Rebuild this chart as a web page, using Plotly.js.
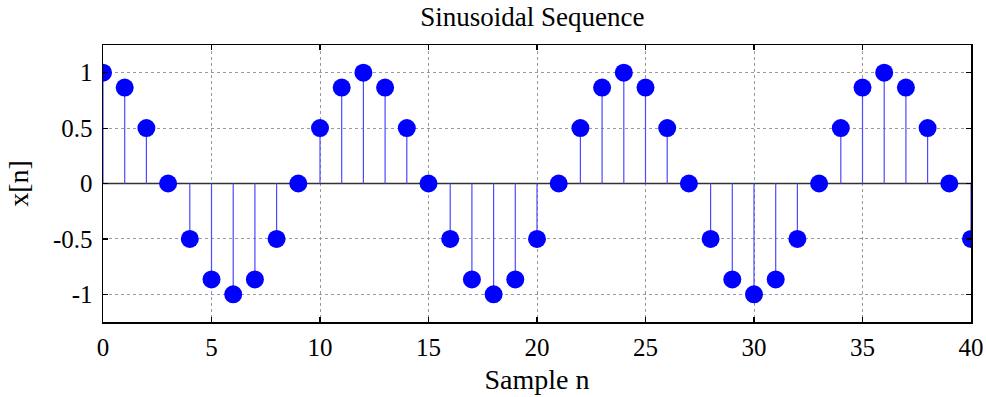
<!DOCTYPE html>
<html>
<head>
<meta charset="utf-8">
<script src="https://cdn.plot.ly/plotly-3.0.1.min.js"></script>
<style>
  html, body { margin: 0; padding: 0; background: #fff; }
  #chart { width: 986px; height: 397px; }
</style>
</head>
<body>
<div id="chart"></div>
<script>
// Sample indices and sequence values x[n]
const sampleN = [0,1,2,3,4,5,6,7,8,9,10,11,12,13,14,15,16,17,18,19,20,
                 21,22,23,24,25,26,27,28,29,30,31,32,33,34,35,36,37,38,39,40];
const seqValues = [1, 0.866, 0.5, 0, -0.5, -0.866, -1, -0.866, -0.5, 0,
                   0.5, 0.866, 1, 0.866, 0.5, 0, -0.5, -0.866, -1, -0.866,
                   -0.5, 0, 0.5, 0.866, 1, 0.866, 0.5, 0, -0.5, -0.866,
                   -1, -0.866, -0.5, 0, 0.5, 0.866, 1, 0.866, 0.5, 0, -0.5];
const xTicks = [0, 5, 10, 15, 20, 25, 30, 35, 40];
const yTicks = [-1, -0.5, 0, 0.5, 1];
const yTickText = ['-1', '-0.5', '0', '0.5', '1'];

// Build stem segments from baseline to each value
const stemX = [], stemY = [];
sampleN.forEach((n, i) => {
  stemX.push(n, n, null);
  stemY.push(0, seqValues[i], null);
});

const serif = 'Liberation Serif, Times New Roman, serif';

const traces = [
  {
    x: [sampleN[0], sampleN[sampleN.length - 1]], y: [0, 0],
    mode: 'lines', type: 'scatter', hoverinfo: 'skip',
    line: { color: '#333', width: 1.3 }
  },
  {
    x: stemX, y: stemY, mode: 'lines', type: 'scatter', hoverinfo: 'skip',
    line: { color: '#4a4aff', width: 1.2 }
  },
  {
    x: sampleN, y: seqValues, mode: 'markers', type: 'scatter',
    marker: { color: '#0000ff', size: 18, line: { width: 0 } }
  }
];

const axisCommon = {
  showline: true, mirror: 'ticks', linecolor: '#000', linewidth: 1.5,
  ticks: 'inside', ticklen: 5, tickwidth: 1.2, tickcolor: '#000',
  showgrid: true, gridcolor: '#9a9a9a', griddash: 'dot', gridwidth: 1,
  zeroline: false,
  tickfont: { family: serif, size: 25, color: '#000' }
};

const layout = {
  width: 986, height: 397,
  margin: { l: 103, r: 15, t: 45, b: 75 },
  paper_bgcolor: '#fff', plot_bgcolor: '#fff',
  showlegend: false,
  title: {
    text: 'Sinusoidal Sequence',
    font: { family: serif, size: 27, color: '#000' },
    x: 0.54, xanchor: 'center', y: 0.983, yanchor: 'top'
  },
  xaxis: Object.assign({}, axisCommon, {
    range: [0, 40], tickvals: xTicks, ticktext: xTicks.map(String),
    ticklabelstandoff: 2,
    title: { text: 'Sample n', font: { family: serif, size: 28, color: '#000' }, standoff: 10 }
  }),
  yaxis: Object.assign({}, axisCommon, {
    range: [-1.25, 1.25], tickvals: yTicks, ticktext: yTickText,
    ticklabelstandoff: 4,
    title: { text: 'x[n]', font: { family: serif, size: 28, color: '#000' }, standoff: 16 }
  })
};

Plotly.newPlot('chart', traces, layout, { displayModeBar: false, staticPlot: true });
</script>
</body>
</html>
